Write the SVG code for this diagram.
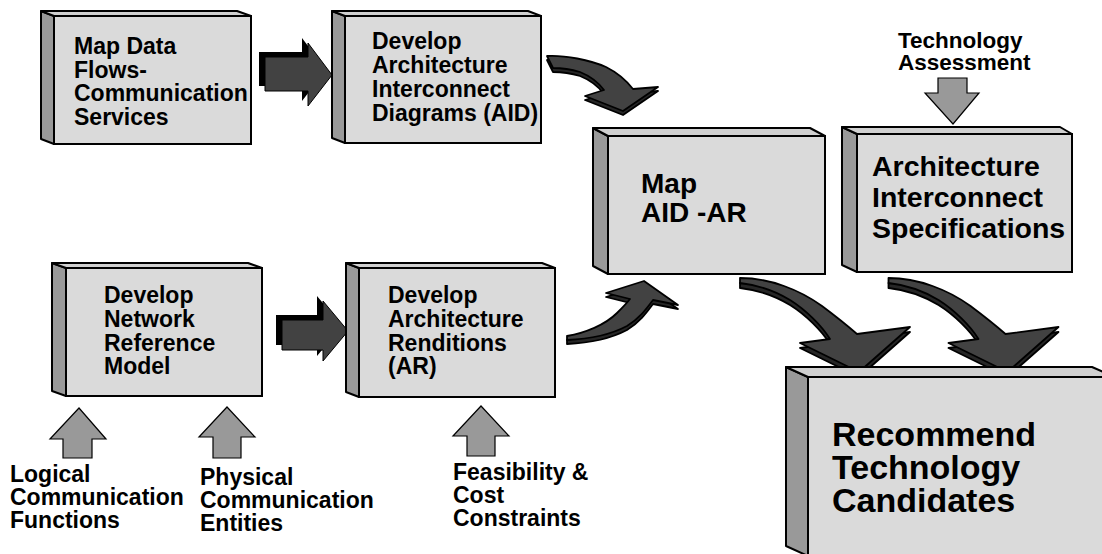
<svg xmlns="http://www.w3.org/2000/svg" width="1102" height="554" viewBox="0 0 1102 554">
<style>
.side{fill:#999999;stroke:#000;stroke-width:2;stroke-linejoin:round}
.top{fill:#d0d0d0;stroke:#000;stroke-width:2;stroke-linejoin:round}
.front{fill:#dadada;stroke:#000;stroke-width:2}
.t{font-family:"Liberation Sans",Arial,Helvetica,sans-serif;font-weight:bold;fill:#000}
.s{font-size:23px}
.ga{fill:#999999;stroke:#000;stroke-width:1.2;stroke-linejoin:miter}
.cu{fill:#424242;stroke:#000;stroke-width:1.8;stroke-linejoin:round}
.cb{fill:#262626;stroke:#000;stroke-width:1.8;stroke-linejoin:round}
</style>
<rect width="1102" height="554" fill="#fff"/>

<g id="connectors">
  <!-- block arrow top -->
  <path d="M259,52 L302,52 L302,38 L326,70 L302,101 L302,86 L259,86 Z" fill="#000"/>
  <path d="M265,57 L308,57 L308,43 L332,75 L308,106 L308,91 L265,91 Z" fill="#424242" stroke="#000" stroke-width="1"/>
  <!-- block arrow bottom -->
  <path d="M276,315 L317,315 L317,296 L342,326 L317,356 L317,345 L276,345 Z" fill="#000"/>
  <path d="M282,320 L323,320 L323,301 L348,331 L323,361 L323,350 L282,350 Z" fill="#424242" stroke="#000" stroke-width="1"/>

  <!-- curved arrow A: box2 -> Map -->
  <g transform="translate(0,4)">
    <path class="cb" d="M547,56 C565,55 590,60 606,67 C618,73 626,80 633,89 L658,87 L623,111 L585,96 L604,90 C598,82 590,76 580,72 C570,69 560,68 553,68 Z"/>
  </g>
  <path class="cu" d="M547,56 C565,55 590,60 606,67 C618,73 626,80 633,89 L658,87 L623,111 L585,96 L604,90 C598,82 590,76 580,72 C570,69 560,68 553,68 Z"/>

  <!-- curved arrow B: box7 -> Map -->
  <g transform="translate(0,4)">
    <path class="cb" d="M567,336 C585,333 605,325 617,313 C623,307 627,303 630,299 L606,293 L644,281 L678,305 L653,300 C647,308 640,318 627,326 C610,335 590,339 567,340 Z"/>
  </g>
  <path class="cu" d="M567,336 C585,333 605,325 617,313 C623,307 627,303 630,299 L606,293 L644,281 L678,305 L653,300 C647,308 640,318 627,326 C610,335 590,339 567,340 Z"/>

  <!-- curved arrow C: Map -> Recommend -->
  <g transform="translate(0,5)">
    <path class="cb" d="M740,278 C770,278 800,290 822,306 C838,318 849,327 857,334 L910,327 L859,372 L800,343 L830,339 C822,326 806,310 790,300 C775,291 758,285 740,283 Z"/>
  </g>
  <path class="cu" d="M740,278 C770,278 800,290 822,306 C838,318 849,327 857,334 L910,327 L859,372 L800,343 L830,339 C822,326 806,310 790,300 C775,291 758,285 740,283 Z"/>

  <!-- curved arrow D: Spec -> Recommend -->
  <g transform="translate(148.5,5)">
    <path class="cb" d="M740,278 C770,278 800,290 822,306 C838,318 849,327 857,334 L910,327 L859,372 L800,343 L830,339 C822,326 806,310 790,300 C775,291 758,285 740,283 Z"/>
  </g>
  <g transform="translate(148.5,0)">
    <path class="cu" d="M740,278 C770,278 800,290 822,306 C838,318 849,327 857,334 L910,327 L859,372 L800,343 L830,339 C822,326 806,310 790,300 C775,291 758,285 740,283 Z"/>
  </g>

  <!-- gray input arrows -->
  <path class="ga" d="M938,78 L967,78 L967,93 L979,93 L953,124 L925,93 L938,93 Z"/>
  <path class="ga" d="M63,458 L63,439 L50,439 L79,408 L106,439 L92,439 L92,458 Z"/>
  <path class="ga" d="M213,458 L213,437 L199,437 L227,407 L255,437 L241,437 L241,458 Z"/>
  <path class="ga" d="M467,456 L467,436 L453,436 L481,406 L509,436 L495,436 L495,456 Z"/>
</g>

<g id="box-map-data">
  <polygon class="side" points="41,11 54,16 54,144 41,139"/>
  <polygon class="top" points="41,11 237,11 251,16 54,16"/>
  <rect class="front" x="54" y="16" width="197" height="128"/>
  <text class="t s" x="74" y="54">Map Data</text>
  <text class="t s" x="74" y="77.5">Flows-</text>
  <text class="t s" x="74" y="101">Communication</text>
  <text class="t s" x="74" y="124.5">Services</text>
</g>

<g id="box-aid">
  <polygon class="side" points="332,11 345,16 345,143 332,138"/>
  <polygon class="top" points="332,11 528,11 541,16 345,16"/>
  <rect class="front" x="345" y="16" width="196" height="127"/>
  <text class="t s" x="372" y="49">Develop</text>
  <text class="t s" x="372" y="73">Architecture</text>
  <text class="t s" x="372" y="97">Interconnect</text>
  <text class="t s" x="372" y="121">Diagrams (AID)</text>
</g>

<g id="box-map-aid-ar">
  <polygon class="side" points="593,128 608,136 608,274 593,266"/>
  <polygon class="top" points="593,128 810,128 825,136 608,136"/>
  <rect class="front" x="608" y="136" width="217" height="138"/>
  <text class="t" font-size="28" x="641" y="193">Map</text>
  <text class="t" font-size="28" x="641" y="222">AID -AR</text>
</g>

<g id="box-spec">
  <polygon class="side" points="842,127 857,134 857,272 842,265"/>
  <polygon class="top" points="842,127 1060,127 1072,134 857,134"/>
  <rect class="front" x="857" y="134" width="215" height="138"/>
  <text class="t" font-size="28.5" x="872" y="176">Architecture</text>
  <text class="t" font-size="28.5" x="872" y="207">Interconnect</text>
  <text class="t" font-size="28.5" x="872" y="238">Specifications</text>
</g>

<g id="label-tech-assessment">
  <text class="t" font-size="22.5" x="898" y="47.5">Technology</text>
  <text class="t" font-size="22.5" x="898" y="70">Assessment</text>
</g>

<g id="box-recommend">
  <polygon class="side" points="786,367 808,377 808,556 786,546"/>
  <polygon class="top" points="786,367 1092,367 1115,377 808,377"/>
  <rect class="front" x="808" y="377" width="310" height="185"/>
  <text class="t" font-size="34" x="832" y="446">Recommend</text>
  <text class="t" font-size="34" x="832" y="479">Technology</text>
  <text class="t" font-size="34" x="832" y="512">Candidates</text>
</g>

<g id="box-network-ref">
  <polygon class="side" points="52,263 66,268 66,396 52,391"/>
  <polygon class="top" points="52,263 248,263 262,268 66,268"/>
  <rect class="front" x="66" y="268" width="196" height="128"/>
  <text class="t s" x="104" y="303">Develop</text>
  <text class="t s" x="104" y="327">Network</text>
  <text class="t s" x="104" y="350.5">Reference</text>
  <text class="t s" x="104" y="374">Model</text>
</g>

<g id="box-renditions">
  <polygon class="side" points="346,263 359,268 359,397 346,392"/>
  <polygon class="top" points="346,263 542,263 555,268 359,268"/>
  <rect class="front" x="359" y="268" width="196" height="129"/>
  <text class="t s" x="388" y="303">Develop</text>
  <text class="t s" x="388" y="327">Architecture</text>
  <text class="t s" x="388" y="350.5">Renditions</text>
  <text class="t s" x="388" y="374">(AR)</text>
</g>

<g id="label-logical">
  <text class="t s" x="10" y="482">Logical</text>
  <text class="t s" x="10" y="505">Communication</text>
  <text class="t s" x="10" y="528">Functions</text>
</g>
<g id="label-physical">
  <text class="t s" x="200" y="485">Physical</text>
  <text class="t s" x="200" y="508">Communication</text>
  <text class="t s" x="200" y="531">Entities</text>
</g>
<g id="label-feasibility">
  <text class="t s" x="453" y="480">Feasibility &amp;</text>
  <text class="t s" x="453" y="503">Cost</text>
  <text class="t s" x="453" y="526">Constraints</text>
</g>
</svg>
